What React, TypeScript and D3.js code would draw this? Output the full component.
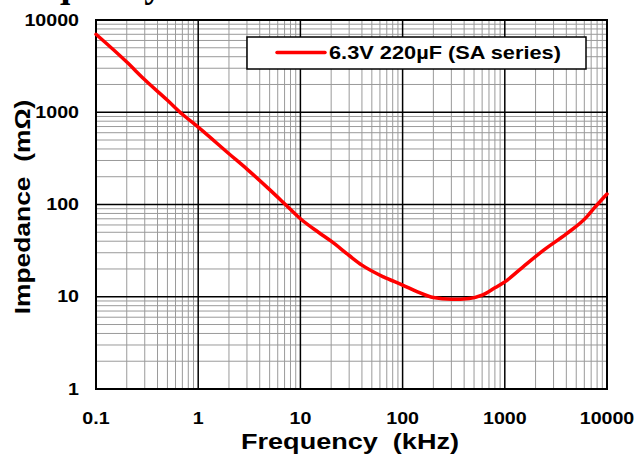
import React from "react";
import * as d3 from "d3";

const freqKHz = [0.1, 0.2, 0.3, 0.5, 0.7, 1, 2, 3, 5, 7, 10, 15, 20, 30, 40, 65, 100, 140, 200, 300, 450, 600, 800, 1000, 1500, 2400, 4000, 6300, 7400, 10000];
const impedance = [7000, 3500, 2250, 1350, 950, 690, 355, 242, 145, 102, 70, 50, 40, 28, 22, 16.4, 13.4, 11.3, 9.8, 9.4, 9.6, 10.4, 12.5, 14.5, 21, 32, 48, 73, 90, 130];
const xTicks = [0.1, 1, 10, 100, 1000, 10000];
const yTicks = [1, 10, 100, 1000, 10000];
const seriesName = "6.3V 220µF (SA series)";
const xTitle = "Frequency  (kHz)";
const yTitle = "Impedance  (mΩ)";
const chartTitle = "Frequency Characteristics";

const W = 635, H = 455;
const L = 96, R = 607, T = 20, B = 389;
const FONT = "'Liberation Sans', Arial, sans-serif";

export default function App() {
  const x = d3.scaleLog().domain([0.1, 10000]).range([L, R]);
  const y = d3.scaleLog().domain([1, 10000]).range([B, T]);

  const minorX: number[] = [];
  for (let d = -1; d < 4; d++) for (let k = 2; k <= 9; k++) minorX.push(k * Math.pow(10, d));
  const minorY: number[] = [];
  for (let d = 0; d < 4; d++) for (let k = 2; k <= 9; k++) minorY.push(k * Math.pow(10, d));

  const line = d3.line<number>()
    .x((_, i) => x(freqKHz[i]))
    .y((d) => y(d))
    .curve(d3.curveMonotoneX);

  const fmt = (v: number) => (v < 1 ? String(v) : d3.format("d")(v));

  return (
    <svg width={W} height={H} style={{ position: "absolute", left: 0, top: 0, background: "#fff" }}>
      <rect x={0} y={0} width={W} height={H} fill="#fff" />
      <text x={-5} y={-3} fontFamily="'Liberation Serif', 'Times New Roman', serif" fontWeight="bold" fontSize={37} fill="#000">{chartTitle}</text>
      {/* minor grid */}
      {minorX.map((v, i) => (
        <line key={"mx" + i} x1={x(v)} x2={x(v)} y1={T} y2={B} stroke="#9a9a9a" strokeWidth={1} />
      ))}
      {minorY.map((v, i) => (
        <line key={"my" + i} x1={L} x2={R} y1={y(v)} y2={y(v)} stroke="#9a9a9a" strokeWidth={1} />
      ))}
      {/* major grid */}
      {xTicks.map((v, i) => (
        <line key={"Mx" + i} x1={x(v)} x2={x(v)} y1={T} y2={B} stroke="#000" strokeWidth={1.5} />
      ))}
      {yTicks.map((v, i) => (
        <line key={"My" + i} x1={L} x2={R} y1={y(v)} y2={y(v)} stroke="#000" strokeWidth={1.5} />
      ))}
      <rect x={L} y={T} width={R - L} height={B - T} fill="none" stroke="#000" strokeWidth={2} />
      {/* curve */}
      <path d={line(impedance) || ""} fill="none" stroke="#ff0000" strokeWidth={3.5} strokeLinejoin="round" strokeLinecap="round" />
      {/* legend */}
      <rect x={247} y={37} width={339} height={32} fill="#fff" stroke="#000" strokeWidth={1.5} />
      <line x1={277} x2={325} y1={52.5} y2={52.5} stroke="#ff0000" strokeWidth={3.5} strokeLinecap="round" />
      <text transform="translate(329,59) scale(1.21,1)" fontFamily={FONT} fontWeight="bold" fontSize={18} fill="#000">{seriesName}</text>
      {/* y tick labels */}
      {yTicks.map((v, i) => (
        <text key={"yt" + i} transform={`translate(79,${y(v) + 5.5}) scale(1.19,1)`} textAnchor="end" fontFamily={FONT} fontWeight="bold" fontSize={16.5} fill="#000">{fmt(v)}</text>
      ))}
      {/* x tick labels */}
      {xTicks.map((v, i) => (
        <text key={"xt" + i} transform={`translate(${x(v)},424) scale(1.19,1)`} textAnchor="middle" fontFamily={FONT} fontWeight="bold" fontSize={16.5} fill="#000">{fmt(v)}</text>
      ))}
      {/* axis titles */}
      <text transform="translate(350,449) scale(1.23,1)" textAnchor="middle" fontFamily={FONT} fontWeight="bold" fontSize={22} fill="#000" style={{ whiteSpace: "pre" }}>{xTitle}</text>
      <text transform="translate(30,207) rotate(-90) scale(1.2,1)" textAnchor="middle" fontFamily={FONT} fontWeight="bold" fontSize={22} fill="#000" style={{ whiteSpace: "pre" }}>{yTitle}</text>
    </svg>
  );
}
